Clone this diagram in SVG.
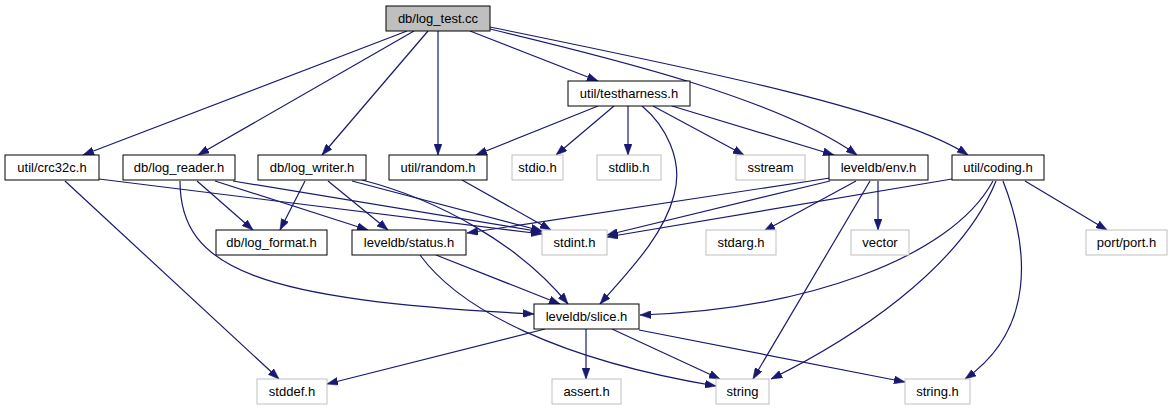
<svg xmlns="http://www.w3.org/2000/svg" width="1173" height="411" viewBox="0 0 1173 411">
<style>
.n rect{fill:#fff;stroke:#000;stroke-width:1}
.g rect{fill:#fff;stroke:#bfbfbf;stroke-width:1}
.r rect{fill:#bfbfbf;stroke:#000;stroke-width:1}
text{font-family:"Liberation Sans",Arial,Helvetica,sans-serif;font-size:13px;fill:#000;text-anchor:middle}
#edges path{fill:none;stroke:#191970;stroke-width:1.2;marker-end:url(#ah)}
</style>
<defs>
<marker id="ah" markerUnits="userSpaceOnUse" markerWidth="11" markerHeight="8" refX="11" refY="4" orient="auto">
<path d="M0,0 L11,4 L0,8 z" fill="#191970" stroke="#191970" stroke-width="0.5"/>
</marker>
</defs>
<rect width="1173" height="411" fill="#fff"/>
<g id="edges">
<path d="M407,31 L83,155"/>
<path d="M414,31 L198,155"/>
<path d="M428,31 L322,155"/>
<path d="M438,31 L438,155"/>
<path d="M470,31 L598,81"/>
<path d="M490,29 C620,60 780,100 857,155"/>
<path d="M490,27 C700,70 900,110 968,155"/>
<path d="M598,106 L476,155"/>
<path d="M614,106 L556,155"/>
<path d="M628,106 L628,155"/>
<path d="M642,106 C665,125 684,160 674,195 C664,235 630,270 600,304"/>
<path d="M653,106 L744,155"/>
<path d="M672,106 L834,155"/>
<path d="M99,179 L542,234"/>
<path d="M65,181 L279,379"/>
<path d="M197,181 L253,230"/>
<path d="M215,181 L368,230"/>
<path d="M233,181 L542,232"/>
<path d="M180,181 C180,270 260,300 534,314"/>
<path d="M305,181 L280,230"/>
<path d="M328,181 L388,230"/>
<path d="M352,181 L542,231"/>
<path d="M362,180 C440,200 520,245 568,304"/>
<path d="M462,180 L551,230"/>
<path d="M830,178 L467,233"/>
<path d="M830,181 L607,235"/>
<path d="M856,181 L764,231"/>
<path d="M878,181 L878,230"/>
<path d="M870,181 L753,379"/>
<path d="M952,179 L607,237"/>
<path d="M993,181 C950,260 800,310 640,315"/>
<path d="M996,181 C960,270 850,340 771,379"/>
<path d="M1003,181 C1030,250 1035,330 965,379"/>
<path d="M1025,181 L1107,230"/>
<path d="M436,255 L560,304"/>
<path d="M420,255 C460,310 560,360 716,386"/>
<path d="M545,329 L327,384"/>
<path d="M586,329 L586,379"/>
<path d="M612,329 L720,379"/>
<path d="M639,330 L905,382"/>
</g>
<g id="log_test" class="r"><rect x="386" y="6" width="104" height="25"/><text x="438" y="23">db/log_test.cc</text></g>
<g id="testharness" class="n"><rect x="568" y="81" width="122" height="25"/><text x="629" y="98">util/testharness.h</text></g>
<g id="crc32c" class="n"><rect x="5" y="155" width="94" height="25"/><text x="52" y="172">util/crc32c.h</text></g>
<g id="log_reader" class="n"><rect x="123" y="155" width="112" height="25"/><text x="179" y="172">db/log_reader.h</text></g>
<g id="log_writer" class="n"><rect x="258" y="155" width="108" height="25"/><text x="312" y="172">db/log_writer.h</text></g>
<g id="random" class="n"><rect x="389" y="155" width="98" height="25"/><text x="438" y="172">util/random.h</text></g>
<g id="stdio" class="g"><rect x="512" y="155" width="51" height="25"/><text x="537.5" y="172">stdio.h</text></g>
<g id="stdlib" class="g"><rect x="597" y="155" width="64" height="25"/><text x="629" y="172">stdlib.h</text></g>
<g id="sstream" class="g"><rect x="736" y="155" width="69" height="25"/><text x="770.5" y="172">sstream</text></g>
<g id="env" class="n"><rect x="829" y="155" width="99" height="25"/><text x="878.5" y="172">leveldb/env.h</text></g>
<g id="coding" class="n"><rect x="952" y="155" width="92" height="25"/><text x="998" y="172">util/coding.h</text></g>
<g id="log_format" class="n"><rect x="216" y="230" width="111" height="25"/><text x="271.5" y="247">db/log_format.h</text></g>
<g id="status" class="n"><rect x="352" y="230" width="114" height="25"/><text x="409" y="247">leveldb/status.h</text></g>
<g id="stdint" class="g"><rect x="542" y="230" width="65" height="25"/><text x="574.5" y="247">stdint.h</text></g>
<g id="stdarg" class="g"><rect x="706" y="230" width="70" height="25"/><text x="741" y="247">stdarg.h</text></g>
<g id="vector" class="g"><rect x="851" y="230" width="58" height="25"/><text x="880" y="247">vector</text></g>
<g id="port" class="g"><rect x="1086" y="230" width="81" height="25"/><text x="1126.5" y="247">port/port.h</text></g>
<g id="slice" class="n"><rect x="534" y="304" width="105" height="25"/><text x="586.5" y="321">leveldb/slice.h</text></g>
<g id="stddef" class="g"><rect x="257" y="379" width="70" height="25"/><text x="292" y="396">stddef.h</text></g>
<g id="assert" class="g"><rect x="552" y="379" width="69" height="25"/><text x="586.5" y="396">assert.h</text></g>
<g id="string" class="g"><rect x="716" y="379" width="53" height="25"/><text x="742.5" y="396">string</text></g>
<g id="string_h" class="g"><rect x="905" y="379" width="65" height="25"/><text x="937.5" y="396">string.h</text></g>
</svg>
